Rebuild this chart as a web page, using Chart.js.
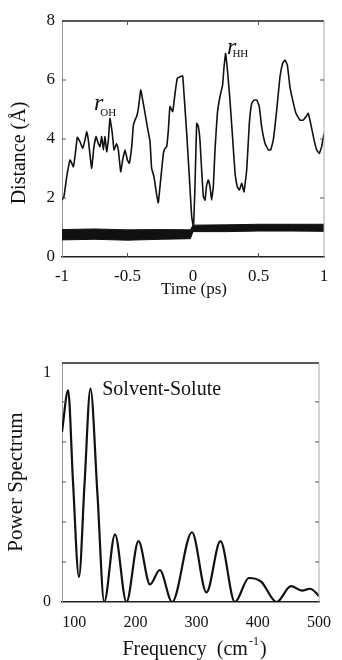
<!DOCTYPE html>
<html>
<head>
<meta charset="utf-8">
<title>Distance and power spectrum</title>
<script src="https://cdn.jsdelivr.net/npm/chart.js@4.4.1/dist/chart.umd.min.js"></script>
<style>
  html, body { margin: 0; padding: 0; background: #fff; }
  canvas { display: block; }
</style>
</head>
<body>
<canvas id="distanceChart" width="342" height="305"></canvas>
<canvas id="spectrumChart" width="342" height="355"></canvas>
<script>
// Distance trace: r_OH before t = 0, r_HH after (ps, Å)
const traceTime = [
  -1, -0.985, -0.964, -0.939, -0.926, -0.913, -0.901, -0.883, -0.863, -0.842,
  -0.824, -0.812, -0.799, -0.774, -0.756, -0.740, -0.723, -0.710, -0.697, -0.684,
  -0.672, -0.659, -0.646, -0.634, -0.616, -0.603, -0.583, -0.570, -0.552, -0.537,
  -0.519, -0.501, -0.486, -0.468, -0.455, -0.443, -0.430, -0.417, -0.399, -0.384,
  -0.366, -0.349, -0.328, -0.316, -0.298, -0.277, -0.265, -0.247, -0.226, -0.214,
  -0.201, -0.188, -0.176, -0.155, -0.137, -0.120, -0.099, -0.079, -0.069, -0.048,
  -0.028, -0.010, 0.003, 0.015, 0.028, 0.041, 0.053, 0.066, 0.079, 0.092,
  0.104, 0.117, 0.130, 0.142, 0.155, 0.168, 0.186, 0.206, 0.226, 0.237,
  0.249, 0.265, 0.282, 0.300, 0.321, 0.338, 0.354, 0.372, 0.389, 0.410,
  0.430, 0.448, 0.466, 0.486, 0.506, 0.524, 0.550, 0.575, 0.593, 0.613,
  0.639, 0.664, 0.684, 0.702, 0.720, 0.740, 0.761, 0.786, 0.817, 0.842,
  0.863, 0.880, 0.898, 0.924, 0.944, 0.964, 0.982, 1.0
];
const traceDist = [
  1.93, 2.05, 2.72, 3.29, 3.18, 3.06, 3.40, 4.06, 3.91, 3.68,
  3.97, 4.25, 3.97, 3.01, 3.74, 4.08, 3.85, 3.74, 4.08, 3.63,
  4.08, 3.57, 3.97, 4.70, 4.19, 3.63, 3.85, 3.63, 2.89, 3.29,
  3.63, 3.29, 3.18, 3.74, 4.47, 4.64, 4.76, 5.04, 5.66, 5.32,
  4.87, 4.42, 3.91, 3.01, 2.72, 2.10, 1.84, 2.61, 3.51, 3.68,
  3.74, 4.31, 5.10, 4.93, 5.55, 6.06, 6.11, 6.14, 5.55, 4.19,
  2.72, 1.37, 1.03, 2.38, 4.53, 4.42, 3.97, 2.95, 2.05, 1.93,
  2.44, 2.61, 2.38, 1.93, 2.38, 3.63, 4.87, 5.44, 5.83, 6.45,
  6.90, 6.23, 5.32, 4.19, 2.84, 2.38, 2.27, 2.50, 2.21, 2.95,
  4.53, 5.21, 5.32, 5.32, 5.10, 4.42, 3.85, 3.63, 3.63, 3.97,
  4.98, 6.11, 6.56, 6.68, 6.51, 5.77, 5.32, 4.87, 4.64, 4.64,
  4.76, 4.87, 4.53, 3.97, 3.63, 3.51, 3.74, 4.19
];

// bond vibration, drawn as a filled envelope
const bandTime  = [-1, -0.75, -0.5, -0.25, -0.02, 0, 0.25, 0.5, 0.75, 1];
const bandUpper = [0.93, 0.95, 0.92, 0.93, 0.92, 1.08, 1.09, 1.11, 1.11, 1.11];
const bandLower = [0.58, 0.60, 0.57, 0.60, 0.62, 0.86, 0.86, 0.88, 0.88, 0.87];

const timeTicks = [-1, -0.5, 0, 0.5, 1];
const distTicks = [0, 2, 4, 6, 8];
const timeMarks = [-0.5, 0.5];
const distMarks = [2, 4, 6];

// Solvent-solute power spectrum
const freq  = [80, 90, 98, 107.7, 117, 126.5, 138, 149, 166.6, 185.3, 205, 223.8, 239.8, 260,
               292.4, 316.1, 338.9, 362.6, 385.4, 405.4, 430.6, 454.3, 472.2, 485.6, 497.9, 500];
const power = [0.744, 0.925, 0.525, 0.11, 0.525, 0.933, 0.467, 0, 0.296, 0, 0.266, 0.077, 0.14, 0,
               0.305, 0.042, 0.266, 0, 0.105, 0.089, 0, 0.069, 0.05, 0.058, 0.032, 0.025];

const freqTicks  = [100, 200, 300, 400, 500];
const powerTicks = [0, 1];
const powerMarks = [0.175, 0.35, 0.525, 0.7, 0.875];

const SERIF = '"Liberation Serif", "Times New Roman", serif';
const INK = '#111';

function points(xs, ys) {
    return xs.map((x, i) => ({ x: x, y: ys[i] }));
}

// top/right frame lines plus small inward tick marks
function framePlugin(xMarks, yMarks) {
    return {
        id: 'frame',
        afterDatasetsDraw(chart) {
            const { ctx, chartArea: a, scales } = chart;
            ctx.save();
            ctx.lineWidth = 1.5;
            ctx.strokeStyle = '#222';
            ctx.beginPath();
            ctx.moveTo(a.left, a.top);
            ctx.lineTo(a.right, a.top);
            ctx.stroke();

            ctx.lineWidth = 1;
            ctx.strokeStyle = '#aaa';
            ctx.beginPath();
            ctx.moveTo(a.right, a.top);
            ctx.lineTo(a.right, a.bottom);
            ctx.stroke();

            ctx.strokeStyle = '#555';
            ctx.beginPath();
            xMarks.forEach(v => {
                const px = scales.x.getPixelForValue(v);
                ctx.moveTo(px, a.top); ctx.lineTo(px, a.top + 4);
                ctx.moveTo(px, a.bottom); ctx.lineTo(px, a.bottom - 4);
            });
            yMarks.forEach(v => {
                const py = scales.y.getPixelForValue(v);
                ctx.moveTo(a.left, py); ctx.lineTo(a.left + 4, py);
                ctx.moveTo(a.right, py); ctx.lineTo(a.right - 4, py);
            });
            ctx.stroke();
            ctx.restore();
        }
    };
}

// axis titles and in-plot labels, with sub/superscript parts
function textPlugin(items) {
    const fontOf = p => (p.style || 'normal') + ' ' + p.size + 'px ' + SERIF;
    return {
        id: 'texts',
        afterDraw(chart) {
            const { ctx, scales } = chart;
            items.forEach(item => {
                let x = item.x, y = item.y;
                if (item.at) {
                    x = scales.x.getPixelForValue(item.at[0]);
                    y = scales.y.getPixelForValue(item.at[1]);
                }
                ctx.save();
                ctx.translate(x, y);
                if (item.rotate) ctx.rotate(item.rotate);
                ctx.fillStyle = INK;
                ctx.textBaseline = item.baseline || 'alphabetic';
                ctx.textAlign = 'left';

                let total = 0;
                item.parts.forEach(p => {
                    ctx.font = fontOf(p);
                    total += ctx.measureText(p.t).width + (p.dx || 0);
                });
                let cx = item.align === 'center' ? -total / 2 : 0;
                item.parts.forEach(p => {
                    ctx.font = fontOf(p);
                    cx += p.dx || 0;
                    ctx.fillText(p.t, cx, p.dy || 0);
                    cx += ctx.measureText(p.t).width;
                });
                ctx.restore();
            });
        }
    };
}

function axisX(min, max, ticks, height, padding, size) {
    return {
        type: 'linear', min: min, max: max,
        afterBuildTicks: s => { s.ticks = ticks.map(v => ({ value: v })); },
        afterFit: s => { s.height = height; },
        grid: { drawOnChartArea: false, drawTicks: false },
        border: { color: '#222', width: 1.5 },
        ticks: {
            padding: padding, color: INK, maxRotation: 0, autoSkip: false,
            font: { family: SERIF, size: size },
            callback: v => String(v)
        }
    };
}

function axisY(min, max, ticks, padding, size) {
    return {
        type: 'linear', min: min, max: max,
        afterBuildTicks: s => { s.ticks = ticks.map(v => ({ value: v })); },
        afterFit: s => { s.width = 62; },
        grid: { drawOnChartArea: false, drawTicks: false },
        border: { color: '#999', width: 1 },
        ticks: {
            padding: padding, color: INK, autoSkip: false,
            font: { family: SERIF, size: size },
            callback: v => String(v)
        }
    };
}

const quiet = { legend: { display: false }, tooltip: { enabled: false } };

document.addEventListener('DOMContentLoaded', function() {
    new Chart(document.getElementById('distanceChart'), {
        type: 'line',
        data: {
            datasets: [
                {
                    data: points(traceTime, traceDist),
                    borderColor: INK, borderWidth: 1.6, tension: 0.1,
                    pointRadius: 0, fill: false
                },
                {
                    data: points(bandTime, bandUpper),
                    borderColor: INK, borderWidth: 1, backgroundColor: INK,
                    pointRadius: 0, tension: 0, fill: '+1'
                },
                {
                    data: points(bandTime, bandLower),
                    borderColor: INK, borderWidth: 1,
                    pointRadius: 0, tension: 0, fill: false
                }
            ]
        },
        options: {
            responsive: false,
            animation: false,
            layout: { padding: { top: 21, right: 18, left: 0, bottom: 0 } },
            scales: {
                x: axisX(-1, 1, timeTicks, 48, 9, 17),
                y: axisY(0, 8, distTicks, 7, 17)
            },
            plugins: quiet
        },
        plugins: [
            framePlugin(timeMarks, distMarks),
            textPlugin([
                { at: [-0.756, 4.98], parts: [{ t: 'r', size: 24, style: 'italic' }, { t: 'OH', size: 11, dx: -3, dy: 6 }] },
                { at: [0.26, 6.88], parts: [{ t: 'r', size: 24, style: 'italic' }, { t: 'HH', size: 11, dx: -4, dy: 3 }] },
                { x: 19.5, y: 153, rotate: -Math.PI / 2, align: 'center', baseline: 'middle', parts: [{ t: 'Distance (Å)', size: 20 }] },
                { x: 194, y: 290, align: 'center', baseline: 'middle', parts: [{ t: 'Time (ps)', size: 17 }] }
            ])
        ]
    });

    new Chart(document.getElementById('spectrumChart'), {
        type: 'line',
        data: {
            datasets: [{
                data: points(freq, power),
                borderColor: INK, borderWidth: 2.2,
                cubicInterpolationMode: 'monotone',
                pointRadius: 0, fill: false
            }]
        },
        options: {
            responsive: false,
            animation: false,
            layout: { padding: { top: 58, right: 18, left: 0, bottom: 0 } },
            scales: {
                x: axisX(80, 500, freqTicks, 58, 11, 16),
                y: axisY(0, 1.045, powerTicks, 11, 16)
            },
            plugins: quiet
        },
        plugins: [
            framePlugin([], powerMarks),
            textPlugin([
                { at: [145.7, 0.904], parts: [{ t: 'Solvent-Solute', size: 20 }] },
                { x: 16.5, y: 177, rotate: -Math.PI / 2, align: 'center', baseline: 'middle', parts: [{ t: 'Power Spectrum', size: 21 }] },
                { x: 194.5, y: 345, align: 'center', baseline: 'middle', parts: [
                    { t: 'Frequency  (cm', size: 20 },
                    { t: '-1', size: 12, dx: 1, dy: -8 },
                    { t: ')', size: 20, dx: 1 }
                ] }
            ])
        ]
    });
});
</script>
</body>
</html>
